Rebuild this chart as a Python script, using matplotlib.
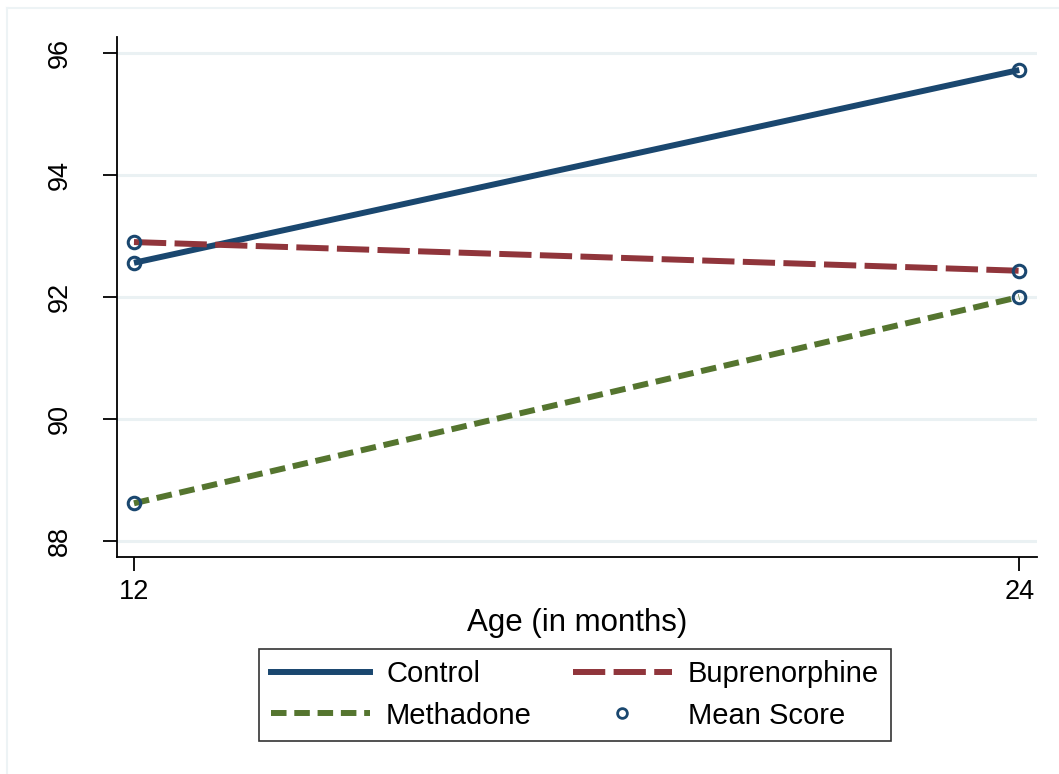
import matplotlib
matplotlib.use("Agg")
import matplotlib.pyplot as plt
from matplotlib.lines import Line2D

plt.rcParams['font.family'] = ['Liberation Sans', 'DejaVu Sans']

ages = [12, 24]
control = [92.56, 95.72]
buprenorphine = [92.90, 92.43]
methadone = [88.62, 92.00]
yticks = [88, 90, 92, 94, 96]
xticks = [12, 24]

navy = '#1a476f'
maroon = '#90353b'
green = '#55752f'

W, H = 1059, 774
fig = plt.figure(figsize=(W/100, H/100), dpi=100)
fig.patch.set_facecolor('white')

# faint outer border (top and left)
fig.add_artist(Line2D([7/W, 1], [1-8/H, 1-8/H], transform=fig.transFigure, color='#edf3f5', lw=1.5))
fig.add_artist(Line2D([7/W, 7/W], [0, 1-8/H], transform=fig.transFigure, color='#edf3f5', lw=1.5))

ax = fig.add_axes([117/W, 1-557/H, (1037-117)/W, (557-37)/H])
ax.set_xlim(11.77, 24.24)
ax.set_ylim(87.74, 96.26)

for y in yticks:
    ax.axhline(y, color='#eaf1f3', lw=2.2, zorder=0)

lw = 4.3
bup_dash = (5.4, 1.4)
met_dash = (2.6, 1.3)
ax.plot(ages, control, color=navy, lw=lw, solid_capstyle='butt', zorder=3)
ax.plot(ages, buprenorphine, color=maroon, lw=lw, dashes=bup_dash, zorder=3)
ax.plot(ages, methadone, color=green, lw=lw, dashes=met_dash, zorder=3)
for s in (control, buprenorphine, methadone):
    ax.plot(ages, s, ls='none', marker='o', ms=9, mfc='none', mec=navy, mew=2.2, zorder=4)

for sp in ('top', 'right'):
    ax.spines[sp].set_visible(False)
for sp in ('left', 'bottom'):
    ax.spines[sp].set_linewidth(1.3)
    ax.spines[sp].set_color('black')

ax.set_yticks(yticks)
ax.set_yticklabels([str(v) for v in yticks], rotation=90, va='center')
ax.set_xticks(xticks)
ax.set_xticklabels([str(v) for v in xticks])
ax.tick_params(axis='both', direction='out', length=10, width=1.3, labelsize=19.5, colors='black')
ax.tick_params(axis='x', pad=6)
ax.tick_params(axis='y', pad=22)
ax.set_xlabel('Age (in months)', fontsize=22.5, labelpad=2)

handles = [
    Line2D([], [], color=navy, lw=lw),
    Line2D([], [], color=green, lw=lw, dashes=met_dash),
    Line2D([], [], color=maroon, lw=lw, dashes=bup_dash),
    Line2D([], [], ls='none', marker='o', ms=7, mfc='none', mec=navy, mew=2),
]
labels = ['Control', 'Methadone', 'Buprenorphine', 'Mean Score']
leg = fig.legend(handles, labels, ncol=2, loc='center',
                 bbox_to_anchor=(575/W, 1-695/H), fontsize=21,
                 frameon=True, fancybox=False, edgecolor='black',
                 handlelength=3.4, handletextpad=0.55, columnspacing=1.4,
                 labelspacing=0.45, borderpad=0.4, borderaxespad=0)
leg.get_frame().set_linewidth(1.2)

fig.savefig('out.png', dpi=100, facecolor='white')
